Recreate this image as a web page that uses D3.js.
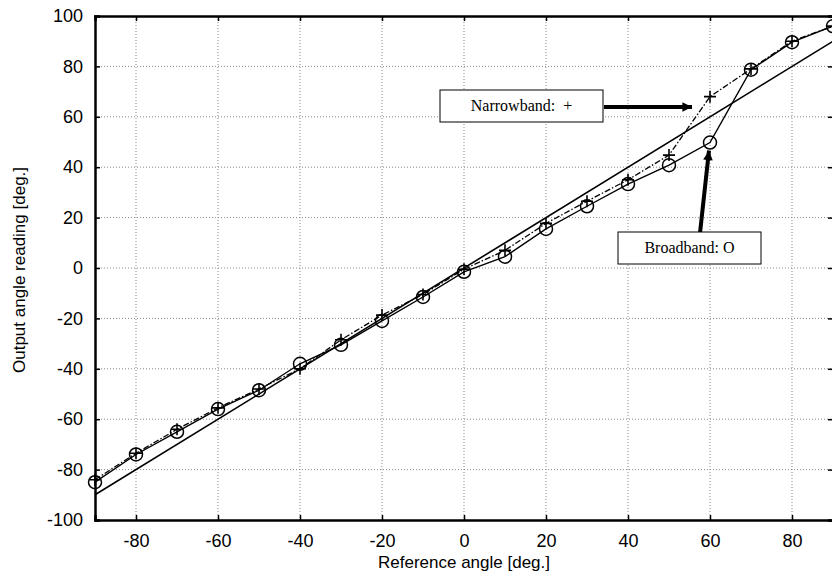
<!DOCTYPE html>
<html>
<head>
<meta charset="utf-8">
<script src="https://cdn.jsdelivr.net/npm/d3@7"></script>
<style>
  html, body { margin: 0; padding: 0; background: #fff; overflow: hidden; }
  svg { display: block; }
  .tick text { font-family: "Liberation Sans", Arial, sans-serif; font-size: 18px; fill: #000; }
  .grid line { stroke: #888; stroke-dasharray: 1,2; stroke-width: 1; }
</style>
</head>
<body>
<svg></svg>
<script>
// reference angles (deg.)
var angles = [-90, -80, -70, -60, -50, -40, -30, -20, -10, 0, 10, 20, 30, 40, 50, 60, 70, 80, 90];
// broadband readings (O)
var broadband = [-85, -74, -65, -56, -48.5, -38, -30.5, -21, -11.5, -1.5, 4.5, 15.5, 24.5, 33.3, 40.8, 49.8, 78.7, 89.6, 96];
// narrowband readings (+)
var narrowband = [-84, -73.5, -64, -55.5, -48, -40, -28.5, -18.7, -10.5, -0.5, 7, 17.7, 26.5, 35, 44.8, 68, 79, 90, 96];
var ideal = [-90, 90];
var xTicks = [-80, -60, -40, -20, 0, 20, 40, 60, 80];
var yTicks = [-100, -80, -60, -40, -20, 0, 20, 40, 60, 80, 100];

var width = 832;
var height = 578;
var margin = { top: 16, right: -1, bottom: 58, left: 95 };
var innerWidth = width - margin.left - margin.right;
var innerHeight = height - margin.top - margin.bottom;

var svg = d3.select('svg')
    .attr('width', width)
    .attr('height', height);
var g = svg.append('g')
    .attr('transform', `translate(${margin.left},${margin.top})`);

var x = d3.scaleLinear().domain([-90, 90]).range([0, innerWidth]);
var y = d3.scaleLinear().domain([-100, 100]).range([innerHeight, 0]);
var plain = d => String(d);   // hyphen minus like the original

// dotted grid
g.append('g').attr('class', 'grid')
    .selectAll('line').data(xTicks)
    .enter().append('line')
    .attr('x1', d => x(d)).attr('x2', d => x(d))
    .attr('y1', 0).attr('y2', innerHeight);
g.append('g').attr('class', 'grid')
    .selectAll('line').data(yTicks.slice(1, -1))
    .enter().append('line')
    .attr('x1', 0).attr('x2', innerWidth)
    .attr('y1', d => y(d)).attr('y2', d => y(d));

// axes, ticks pointing inward
var xAxis = g.append('g')
    .attr('transform', `translate(0,${innerHeight})`)
    .call(d3.axisBottom(x).tickValues(xTicks).tickSize(-5).tickPadding(14).tickFormat(plain));
var xTop = g.append('g')
    .call(d3.axisTop(x).tickValues(xTicks).tickSize(-5).tickFormat(''));
var yAxis = g.append('g')
    .call(d3.axisLeft(y).tickValues(yTicks).tickSize(-5).tickPadding(12).tickFormat(plain));
var yRight = g.append('g')
    .attr('transform', `translate(${innerWidth},0)`)
    .call(d3.axisRight(y).tickValues(yTicks).tickSize(-5).tickFormat(''));
[xAxis, xTop, yAxis, yRight].forEach(a => {
    a.select('.domain').attr('stroke', '#000').attr('stroke-width', 2.5);
    a.selectAll('.tick line').attr('stroke', '#000').attr('stroke-width', 1.5);
});

// axis titles
svg.append('text')
    .attr('x', margin.left + x(0))
    .attr('y', 568)
    .attr('text-anchor', 'middle')
    .style('font-family', '"Liberation Sans", Arial, sans-serif')
    .style('font-size', '17px')
    .text('Reference angle [deg.]');
svg.append('text')
    .attr('transform', `translate(25,${margin.top + innerHeight / 2 + 2}) rotate(-90)`)
    .attr('text-anchor', 'middle')
    .style('font-family', '"Liberation Sans", Arial, sans-serif')
    .style('font-size', '17px')
    .text('Output angle reading [deg.]');

var plot = g.append('g');

// ideal y = x line
plot.append('path')
    .datum(ideal)
    .attr('d', d3.line().x(d => x(d)).y(d => y(d)))
    .attr('fill', 'none').attr('stroke', '#000').attr('stroke-width', 1.6);

var lineGen = d3.line()
    .x((d, i) => x(angles[i]))
    .y(d => y(d));

// narrowband, dash-dot
plot.append('path')
    .datum(narrowband)
    .attr('d', lineGen)
    .attr('fill', 'none').attr('stroke', '#000').attr('stroke-width', 1.3)
    .attr('stroke-dasharray', '6,2,1.5,2');

// broadband, solid
plot.append('path')
    .datum(broadband)
    .attr('d', lineGen)
    .attr('fill', 'none').attr('stroke', '#000').attr('stroke-width', 1.4);

plot.selectAll('circle.bb').data(broadband)
    .enter().append('circle')
    .attr('class', 'bb')
    .attr('cx', (d, i) => x(angles[i]))
    .attr('cy', d => y(d))
    .attr('r', 6.5)
    .attr('fill', 'none').attr('stroke', '#000').attr('stroke-width', 1.5);

plot.selectAll('path.nb').data(narrowband)
    .enter().append('path')
    .attr('class', 'nb')
    .attr('d', (d, i) => {
        var cx = x(angles[i]), cy = y(d), s = 6;
        return `M${cx - s},${cy}H${cx + s}M${cx},${cy - s}V${cy + s}`;
    })
    .attr('stroke', '#000').attr('stroke-width', 1.6);

// annotations
var defs = svg.append('defs');
defs.append('marker')
    .attr('id', 'arrow')
    .attr('viewBox', '0 0 10 10')
    .attr('refX', 10).attr('refY', 5)
    .attr('markerWidth', 3.6).attr('markerHeight', 2.4)
    .attr('markerUnits', 'strokeWidth')
    .attr('orient', 'auto')
    .append('path').attr('d', 'M0,0L10,5L0,10Z').attr('fill', '#000');

function note(label, bx, by, bw, bh) {
    svg.append('rect')
        .attr('x', bx).attr('y', by).attr('width', bw).attr('height', bh)
        .attr('fill', '#fff').attr('stroke', '#000').attr('stroke-width', 1);
    svg.append('text')
        .attr('x', bx + bw / 2).attr('y', by + bh / 2 + 5)
        .attr('text-anchor', 'middle')
        .style('font-family', '"Liberation Serif", "Times New Roman", serif')
        .style('font-size', '16px')
        .style('white-space', 'pre')
        .text(label);
}

var i60 = angles.indexOf(60);
svg.append('line')
    .attr('x1', 604).attr('y1', 107)
    .attr('x2', margin.left + x(60) - 18).attr('y2', 107)
    .attr('stroke', '#000').attr('stroke-width', 4)
    .attr('marker-end', 'url(#arrow)');
svg.append('line')
    .attr('x1', 700).attr('y1', 233)
    .attr('x2', margin.left + x(60) - 1).attr('y2', margin.top + y(broadband[i60]) + 8)
    .attr('stroke', '#000').attr('stroke-width', 4)
    .attr('marker-end', 'url(#arrow)');

note('Narrowband:  +', 440, 90, 163, 32);
note('Broadband: O', 618, 232, 143, 32);
</script>
</body>
</html>
